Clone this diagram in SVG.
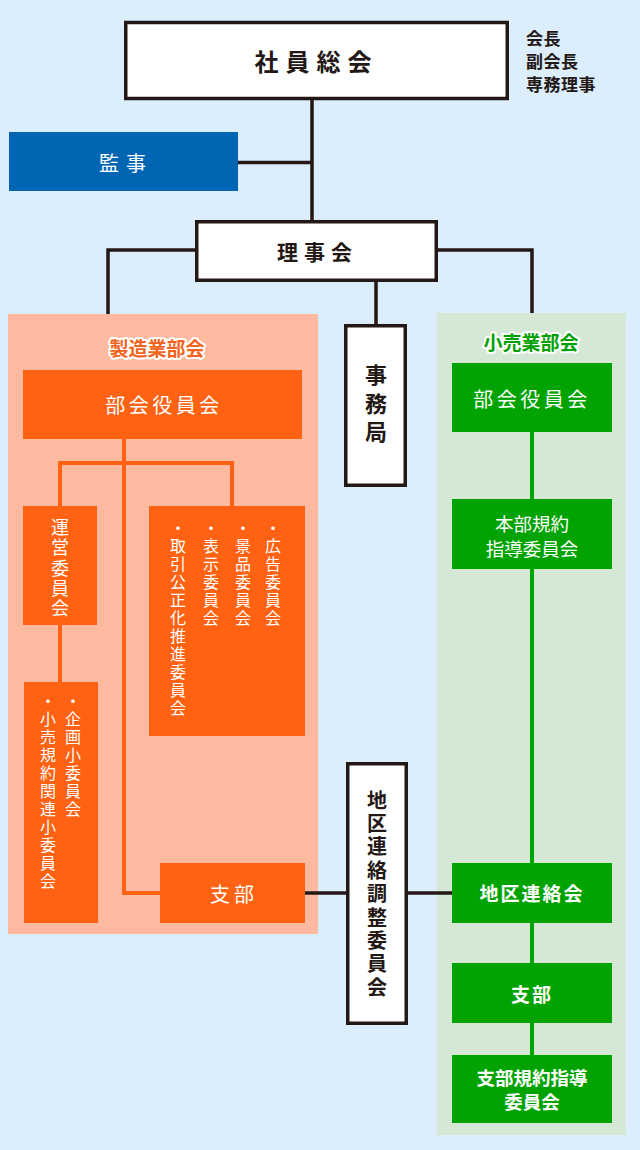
<svg xmlns="http://www.w3.org/2000/svg" width="640" height="1150" viewBox="0 0 640 1150">
<style>
text{font-family:"Noto Sans CJK JP","Noto Sans",sans-serif;}
.bk{fill:#fff;stroke:#231815;stroke-width:3.5;}
.ln{fill:none;stroke:#231815;stroke-width:3.5;}
.ol{fill:none;stroke:#ff6212;stroke-width:4;}
.gl{fill:none;stroke:#00a300;stroke-width:4;}
.or{fill:#ff6212;}
.gr{fill:#00a300;}
.h{text-anchor:middle;dominant-baseline:central;}
.dk{fill:#231815;font-weight:bold;}
.wt{fill:#fff;}
.v{writing-mode:vertical-rl;text-orientation:upright;}
.ttl{font-size:19px;font-weight:bold;stroke:#fff;stroke-width:4;stroke-linejoin:round;paint-order:stroke;}
</style>
<rect x="0" y="0" width="640" height="1150" fill="#dcedfb"/>
<g id="panel-maker"><rect x="8" y="314" width="310" height="620" fill="#febaa0"/>
<text class="h ttl" x="157" y="347" fill="#f2641c">製造業部会</text></g>
<g id="panel-retail"><rect x="437" y="313" width="189" height="822" fill="#d5e8d5"/>
<text class="h ttl" x="531" y="341" fill="#00a000">小売業部会</text></g>
<g id="connectors">
<path class="ln" d="M312 100V220M238 162.5H312M195 250H108V314M438 250H532V313M376 282V324M305 893H346M408 893H452"/>
<path class="ol" d="M124 439V893H160M60 506V463H232V506M60 625V682"/>
<path class="gl" d="M532 432V1055"/>
</g>
<g id="shain-sokai"><rect class="bk" x="125.75" y="22.5" width="381.5" height="76"/>
<text class="h dk" x="316.5" y="60" font-size="24" letter-spacing="7">社員総会</text></g>
<g id="officers"><text class="dk" x="526" y="37" font-size="17" letter-spacing="0.5" dominant-baseline="central">会長</text>
<text class="dk" x="526" y="60" font-size="17" letter-spacing="0.5" dominant-baseline="central">副会長</text>
<text class="dk" x="526" y="83" font-size="17" letter-spacing="0.5" dominant-baseline="central">専務理事</text></g>
<g id="kanji"><rect x="9" y="132" width="229" height="59" fill="#0066b3"/>
<text class="h wt" x="126" y="162" font-size="20" letter-spacing="7">監事</text></g>
<g id="rijikai"><rect class="bk" x="196.75" y="221.75" width="239.5" height="58.5"/>
<text class="h dk" x="317.5" y="251" font-size="21" letter-spacing="6">理事会</text></g>
<g id="jimukyoku"><rect class="bk" x="345.75" y="325.75" width="59.5" height="159.5"/>
<text class="v dk" x="376" y="364" font-size="22" letter-spacing="6.5">事務局</text></g>
<g id="chiku-chosei"><rect class="bk" x="347.75" y="763.75" width="58.5" height="259.5"/>
<text class="v dk" x="377" y="790" font-size="20" letter-spacing="3.4">地区連絡調整委員会</text></g>
<g id="m-yakuin"><rect class="or" x="23" y="370" width="279" height="69"/>
<text class="h wt" x="164" y="404" font-size="20" letter-spacing="3.5">部会役員会</text></g>
<g id="m-unei"><rect class="or" x="23" y="506" width="74" height="119"/>
<text class="v wt" x="60" y="518" font-size="18" letter-spacing="2.4">運営委員会</text></g>
<g id="m-shoiinkai"><rect class="or" x="24" y="682" width="74" height="241"/>
<text class="v wt" x="73" y="693" font-size="16" letter-spacing="2">・企画小委員会</text>
<text class="v wt" x="48" y="693" font-size="16" letter-spacing="2">・小売規約関連小委員会</text></g>
<g id="m-iinkai"><rect class="or" x="149" y="506" width="156" height="230"/>
<text class="v wt" x="273" y="520" font-size="16" letter-spacing="2">・広告委員会</text>
<text class="v wt" x="243" y="520" font-size="16" letter-spacing="2">・景品委員会</text>
<text class="v wt" x="211" y="520" font-size="16" letter-spacing="2">・表示委員会</text>
<text class="v wt" x="178" y="520" font-size="16" letter-spacing="2">・取引公正化推進委員会</text></g>
<g id="m-shibu"><rect class="or" x="160" y="863" width="145" height="60"/>
<text class="h wt" x="234" y="893" font-size="20" letter-spacing="4">支部</text></g>
<g id="r-yakuin"><rect class="gr" x="452" y="363" width="160" height="69"/>
<text class="h wt" x="532" y="398" font-size="20" letter-spacing="3.5">部会役員会</text></g>
<g id="r-honbu"><rect class="gr" x="452" y="499" width="160" height="70"/>
<text class="h wt" x="532" y="523" font-size="18.5">本部規約</text>
<text class="h wt" x="532" y="547.5" font-size="18.5">指導委員会</text></g>
<g id="r-chiku"><rect class="gr" x="452" y="863" width="160" height="60"/>
<text class="h wt" x="532" y="892" font-size="19" letter-spacing="2" font-weight="bold">地区連絡会</text></g>
<g id="r-shibu"><rect class="gr" x="452" y="963" width="160" height="60"/>
<text class="h wt" x="532" y="993" font-size="19" letter-spacing="2" font-weight="bold">支部</text></g>
<g id="r-shibu-kiyaku"><rect class="gr" x="452" y="1055" width="160" height="68"/>
<text class="h wt" x="532" y="1076.5" font-size="18.5" font-weight="bold">支部規約指導</text>
<text class="h wt" x="532" y="1101" font-size="18.5" font-weight="bold">委員会</text></g>
</svg>
